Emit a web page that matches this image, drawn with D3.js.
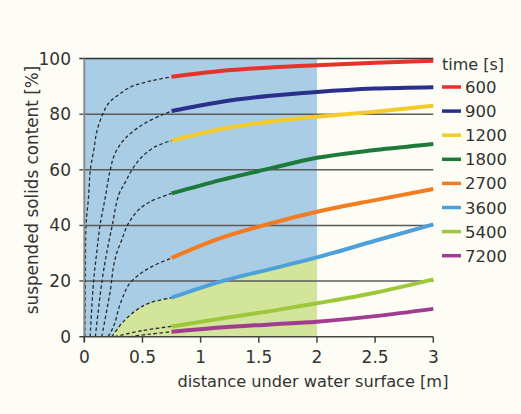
<!DOCTYPE html>
<html><head><meta charset="utf-8">
<script src="https://cdn.jsdelivr.net/npm/d3@7"></script>
<style>body{margin:0;background:#fdfdf5;}svg{display:block;font-family:"DejaVu Sans",sans-serif;}</style>
</head><body><svg id="c" width="521" height="414"></svg>
<script>
// ---- data ----
const times = ["600","900","1200","1800","2700","3600","5400","7200"];
const colors = ["#e8312a","#2a2f8c","#f4cb2c","#1d7a3a","#f47b20","#4da1db","#9cc83a","#a23b92"];
const xSolid = [0.75, 1.17, 1.6, 2.0, 2.5, 3.0];
const s600  = [93.4, 95.5, 96.8, 97.6, 98.5, 99.2];
const s900  = [81.1, 84.4, 86.6, 88.0, 89.2, 89.7];
const s1200 = [70.5, 74.6, 77.3, 79.1, 80.9, 83.0];
const s1800 = [51.5, 56.3, 60.5, 64.3, 67.1, 69.3];
const s2700 = [28.3, 35.4, 40.7, 44.9, 49.1, 53.1];
const s3600 = [14.0, 19.8, 24.3, 28.5, 34.5, 40.4];
const s5400 = [3.7, 6.5, 9.2, 12.0, 15.8, 20.6];
const s7200 = [1.8, 3.3, 4.4, 5.4, 7.4, 10.0];
// dashed extrapolations [x, y]
const d600  = [[0.005,0],[0.009,20],[0.015,40],[0.036,50],[0.052,60],[0.081,67],[0.109,74],[0.158,80],[0.21,84],[0.296,87],[0.41,90],[0.58,92],[0.75,93.4]];
const d900  = [[0.05,0],[0.08,20],[0.106,30],[0.135,40],[0.18,50],[0.223,60],[0.266,66],[0.352,71.3],[0.496,76.1],[0.667,79.7],[0.75,81.1]];
const d1200 = [[0.095,0],[0.152,20],[0.192,30],[0.24,40],[0.296,51],[0.352,55.5],[0.41,60],[0.496,64.7],[0.61,68.3],[0.75,70.5]];
const d1800 = [[0.15,0],[0.225,17],[0.25,25],[0.278,30],[0.321,34.7],[0.364,39.5],[0.407,42.5],[0.464,45.5],[0.564,48.5],[0.75,51.5]];
const d2700 = [[0.205,0],[0.24,2.7],[0.266,5.4],[0.296,10.2],[0.338,15],[0.381,18.6],[0.467,22.2],[0.58,25.2],[0.75,28.3]];
const d3600 = [[0.236,0],[0.335,5.4],[0.45,9.6],[0.564,12.2],[0.75,14.0]];
const d5400 = [[0.26,0],[0.5,2.2],[0.75,3.7]];
const d7200 = [[0.39,0],[0.56,0.9],[0.75,1.8]];
const xTicks = [0,0.5,1,1.5,2,2.5,3];
const xTickLabels = ["0","0.5","1","1.5","2","2.5","3"];
const yTicks = [0,20,40,60,80,100];
const blueLimit = 2.0;

const solids = [s600,s900,s1200,s1800,s2700,s3600,s5400,s7200];
const dashes = [d600,d900,d1200,d1800,d2700,d3600,d5400,d7200];

// ---- chart ----
const svg = d3.select("#c");
const x = d3.scaleLinear().domain([0,3]).range([84.3,433.3]);
const y = d3.scaleLinear().domain([0,100]).range([336.7,58.5]);

// blue region
svg.append("rect").attr("x",x(0)).attr("y",y(100)).attr("width",x(blueLimit)-x(0)).attr("height",y(0)-y(100)).attr("fill","#a8cde4");
// green region under 3600 curve up to x=2
const greenPts = d3600.concat(xSolid.map((v,i)=>[v,s3600[i]]).filter(p=>p[0]>0.75 && p[0]<=blueLimit));
svg.append("path").datum(greenPts)
  .attr("d", d3.area().x(d=>x(d[0])).y0(y(0)).y1(d=>y(d[1])).curve(d3.curveMonotoneX))
  .attr("fill","#d3e49b");

// gridlines
yTicks.filter(v=>v>0).forEach(v=>{
  svg.append("line").attr("x1",x(0)-5).attr("x2",x(3)).attr("y1",y(v)).attr("y2",y(v))
    .attr("stroke", v===100 ? "#333" : "#5a5a5a").attr("stroke-width",1.5);
});

// dashed curves
const dl = d3.line().x(d=>x(d[0])).y(d=>y(d[1])).curve(d3.curveCatmullRom.alpha(0.5));
dashes.forEach(d=>{
  svg.append("path").datum(d).attr("d",dl).attr("fill","none")
    .attr("stroke","#2a2a2a").attr("stroke-width",1.3).attr("stroke-dasharray","3.5,2.5");
});

// solid curves
const sl = d3.line().x((d,i)=>x(xSolid[i])).y(d=>y(d)).curve(d3.curveMonotoneX);
solids.forEach((s,k)=>{
  svg.append("path").datum(s).attr("d",sl).attr("fill","none")
    .attr("stroke",colors[k]).attr("stroke-width",4);
});

// axes
svg.append("line").attr("x1",x(0)).attr("x2",x(0)).attr("y1",y(100)).attr("y2",y(0)+5).attr("stroke","#8a8a8a").attr("stroke-width",2);
svg.append("line").attr("x1",x(0)-5).attr("x2",x(3)).attr("y1",y(0)).attr("y2",y(0)).attr("stroke","#444").attr("stroke-width",1.5);
xTicks.forEach((v,i)=>{
  svg.append("line").attr("x1",x(v)).attr("x2",x(v)).attr("y1",y(0)).attr("y2",y(0)+6).attr("stroke","#444").attr("stroke-width",1.5);
  svg.append("text").attr("x",x(v)).attr("y",363).attr("text-anchor","middle")
    .attr("font-size",17).attr("fill","#333").text(xTickLabels[i]);
});
yTicks.forEach(v=>{
  svg.append("text").attr("x",71).attr("y",y(v)+6).attr("text-anchor","end")
    .attr("font-size",17).attr("fill","#333").text(v);
});
svg.append("text").attr("x",313).attr("y",387).attr("text-anchor","middle")
  .attr("font-size",16.2).attr("fill","#333").text("distance under water surface [m]");
svg.append("text").attr("transform","translate(38,190) rotate(-90)").attr("text-anchor","middle")
  .attr("font-size",16.8).attr("fill","#333").text("suspended solids content [%]");

// legend
svg.append("text").attr("x",442).attr("y",70).attr("font-size",16).attr("fill","#333").text("time [s]");
times.forEach((t,i)=>{
  const yy = 87 + i*24.1;
  svg.append("line").attr("x1",442).attr("x2",461).attr("y1",yy).attr("y2",yy).attr("stroke",colors[i]).attr("stroke-width",3.5);
  svg.append("text").attr("x",465).attr("y",yy+6).attr("font-size",16.5).attr("fill","#333").text(t);
});
</script></body></html>
